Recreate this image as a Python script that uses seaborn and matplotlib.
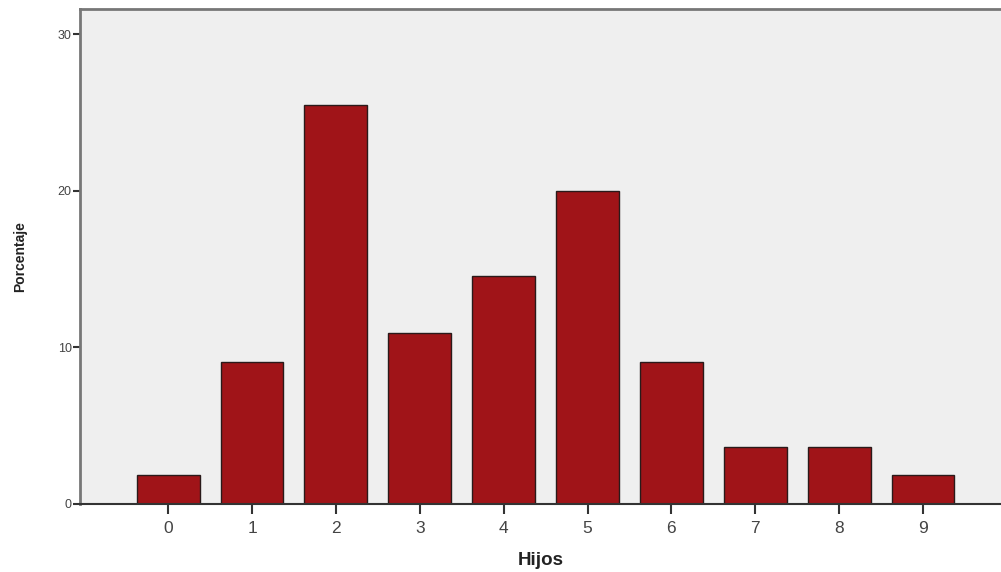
import pandas as pd
import matplotlib
matplotlib.use("Agg")
import matplotlib.pyplot as plt
import seaborn as sns

# Data (percentage of cases per number of children)
hijos = ["0", "1", "2", "3", "4", "5", "6", "7", "8", "9"]
porcentaje = [1.82, 9.09, 25.45, 10.91, 14.55, 20.0, 9.09, 3.64, 3.64, 1.82]

df = pd.DataFrame({"Hijos": hijos, "Porcentaje": porcentaje})

sns.set_theme(style="white")
plt.rcParams['font.family'] = ['Liberation Sans', 'DejaVu Sans']

fig = plt.figure(figsize=(10.01, 5.72), dpi=100)
ax = fig.add_axes([0.080, 0.119, 0.920, 0.865])
ax.set_facecolor("#efefef")

sns.barplot(data=df, x="Hijos", y="Porcentaje", order=hijos, color="#a01418",
            saturation=1, width=0.75, edgecolor="#2a1a1a", linewidth=1.0, ax=ax)

ax.set_xlim(-1.05, 9.93)
ax.set_ylim(0, 31.6)
ax.set_yticks([0, 10, 20, 30])

for side in ["left", "top"]:
    ax.spines[side].set_color("#777777")
    ax.spines[side].set_linewidth(2)
ax.spines["bottom"].set_color("#333333")
ax.spines["bottom"].set_linewidth(1.5)
ax.spines["right"].set_visible(False)

ax.tick_params(axis="y", direction="out", length=5, width=1.5, color="#333333",
               labelsize=9, labelcolor="#444444", left=True, pad=1)
ax.tick_params(axis="x", direction="out", length=7, width=1.5, color="#333333",
               labelsize=12.5, labelcolor="#444444", bottom=True, pad=5)

ax.set_xlabel("Hijos", fontsize=13.5, fontweight="bold", color="#222222", labelpad=12)
ax.set_ylabel("Porcentaje", fontsize=10, fontweight="bold", color="#222222", labelpad=22)

fig.savefig("out.png", dpi=100)
